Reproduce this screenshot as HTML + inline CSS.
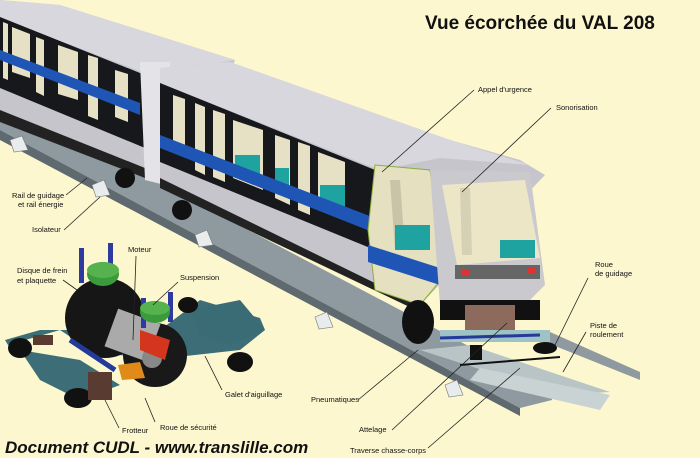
<!DOCTYPE html>
<html><head><meta charset="utf-8"><style>
html,body{margin:0;padding:0;width:700px;height:458px;overflow:hidden;background:#fcf7cf}
svg{display:block}
text{font-family:"Liberation Sans",sans-serif}
.l{font-size:7.5px;fill:#111}
.ln{stroke:#222;stroke-width:0.8;fill:none}
</style></head><body>
<svg width="700" height="458" viewBox="0 0 700 458">
<rect width="700" height="458" fill="#fcf7cf"/>
<!-- rails -->
<polygon points="0,115 0,130 520,408 552,400 552,390 30,115" fill="#8f9aa0"/>
<polygon points="0,130 520,408 520,416 0,140" fill="#5f6a70"/>
<polygon points="420,350 560,395 610,392 470,345" fill="#b8c4c6"/>
<polygon points="470,380 600,410 610,395 480,368" fill="#c9d3d3"/>
<polygon points="540,340 640,380 640,372 550,332" fill="#8f9aa0"/>
<!-- isolators -->
<g fill="#e8ecec" stroke="#777" stroke-width="0.6">
<polygon points="10,140 22,136 28,150 14,152"/>
<polygon points="92,185 104,180 110,195 96,197"/>
<polygon points="195,235 207,230 213,245 199,247"/>
<polygon points="315,317 327,312 333,327 319,329"/>
<polygon points="445,385 457,380 463,395 449,397"/>
</g>
<!-- car 1 -->
<polygon points="0,0 60,5 235,60 230,72 150,80 150,170 0,112" fill="#c6c5cc"/>
<polygon points="0,0 60,5 235,60 150,75 0,18" fill="#d8d7dd"/>
<polygon points="0,17 145,75 145,148 0,88" fill="#17181c"/>
<g fill="#e6e1c4"><polygon points="3,22 8,24 8,80 3,78"/><polygon points="12,27 30,34 30,78 12,72"/><polygon points="36,37 44,40 44,96 36,92"/><polygon points="58,45 78,52 78,100 58,94"/><polygon points="88,55 98,58 98,120 88,116"/><polygon points="115,70 128,74 128,122 115,117"/></g>
<polygon points="0,50 140,103 140,115 0,60" fill="#1f56b5"/>
<polygon points="0,110 145,168 145,178 0,122" fill="#222"/>
<!-- articulation -->
<polygon points="140,62 170,62 165,185 145,180" fill="#e4e4e8"/>
<!-- car 2 -->
<polygon points="160,68 230,62 450,140 520,160 545,175 420,305 160,180" fill="#c6c5cc"/>
<polygon points="160,68 230,62 450,140 530,165 440,158 380,170 160,83" fill="#d8d7dd"/>
<polygon points="160,83 380,172 380,252 160,162" fill="#17181c"/>
<g fill="#e6e1c4"><polygon points="173,95 185,99 185,150 173,145"/><polygon points="195,103 205,107 205,175 195,170"/><polygon points="213,110 225,114 225,182 213,177"/><polygon points="233,120 263,130 263,190 233,178"/><polygon points="275,135 290,140 290,205 275,198"/><polygon points="298,142 310,146 310,215 298,210"/><polygon points="318,152 345,162 345,220 318,210"/></g>
<g fill="#1fa3a0"><rect x="235" y="155" width="25" height="20"/><rect x="275" y="168" width="14" height="25"/><rect x="320" y="185" width="25" height="25"/></g>
<polygon points="160,135 380,220 380,235 160,148" fill="#1f56b5"/>
<polygon points="160,178 420,305 420,312 160,188" fill="#222"/>
<!-- cutaway cab -->
<polygon points="375,165 430,170 445,275 420,305 375,290 368,230" fill="#e4e0c0" stroke="#8bb03a" stroke-width="1"/>
<polygon points="390,180 400,180 405,250 395,250" fill="#c9c4a8"/>
<rect x="395" y="225" width="35" height="25" fill="#1fa3a0"/>
<polygon points="368,245 440,268 440,285 368,262" fill="#1f56b5"/>
<!-- front -->
<polygon points="430,170 530,172 545,285 530,300 440,305" fill="#c9c9ce"/>
<polygon points="442,185 525,180 540,258 457,265" fill="#ece6c7"/>
<polygon points="460,188 470,188 472,255 462,255" fill="#d6d0b5"/>
<rect x="500" y="240" width="35" height="18" fill="#1fa3a0"/>
<rect x="455" y="265" width="85" height="14" fill="#666"/>
<rect x="462" y="269" width="7" height="6" fill="#d33"/><rect x="528" y="268" width="7" height="6" fill="#d33"/>
<!-- front undercarriage -->
<ellipse cx="418" cy="322" rx="16" ry="22" fill="#111"/>
<rect x="440" y="300" width="100" height="20" fill="#111"/>
<rect x="465" y="305" width="50" height="28" fill="#8c6a5c"/>
<rect x="440" y="330" width="110" height="12" fill="#9fc3c4"/>
<line x1="440" y1="338" x2="540" y2="335" stroke="#233a9a" stroke-width="3"/>
<ellipse cx="545" cy="348" rx="12" ry="6" fill="#111"/>
<rect x="470" y="345" width="12" height="15" fill="#111"/>
<line x1="460" y1="365" x2="560" y2="357" stroke="#111" stroke-width="2"/>
<!-- middle wheels -->
<circle cx="125" cy="178" r="10" fill="#111"/><circle cx="182" cy="210" r="10" fill="#111"/>
<!-- bogie -->
<polygon points="8,345 60,330 90,350 150,360 240,350 265,330 260,318 200,300 160,330 90,330 40,330 5,340" fill="#3d6e78"/>
<polygon points="20,350 80,360 120,385 80,400 40,380" fill="#3d6e78"/>
<polygon points="190,310 240,300 265,330 230,345 200,335" fill="#3a6c76"/>
<ellipse cx="20" cy="348" rx="12" ry="10" fill="#111"/>
<ellipse cx="78" cy="398" rx="14" ry="10" fill="#111"/>
<ellipse cx="240" cy="362" rx="13" ry="10" fill="#111"/>
<ellipse cx="188" cy="305" rx="10" ry="8" fill="#111"/>
<circle cx="105" cy="318" r="40" fill="#161616"/>
<circle cx="155" cy="355" r="32" fill="#191919"/>
<rect x="110" y="315" width="45" height="40" fill="#aaa" transform="rotate(20 132 335)"/>
<circle cx="152" cy="358" r="10" fill="#888"/>
<polygon points="118,365 140,362 145,378 122,380" fill="#e08a1a"/>
<polygon points="140,330 170,340 165,360 140,350" fill="#d3361d"/>
<line x1="70" y1="340" x2="115" y2="370" stroke="#233a9a" stroke-width="5"/>
<rect x="88" y="372" width="24" height="28" fill="#5a3b32"/>
<rect x="33" y="335" width="20" height="10" fill="#5a3b32"/>
<g fill="#2d3aa0"><rect x="79" y="248" width="5" height="35"/><rect x="108" y="243" width="5" height="35"/><rect x="141" y="298" width="5" height="30"/><rect x="168" y="292" width="5" height="30"/></g>
<ellipse cx="103" cy="274" rx="16" ry="12" fill="#3b9a3b"/>
<ellipse cx="103" cy="270" rx="16" ry="8" fill="#55b24d"/>
<ellipse cx="155" cy="312" rx="15" ry="11" fill="#3b9a3b"/>
<ellipse cx="155" cy="308" rx="15" ry="7" fill="#55b24d"/>
<!-- leader lines -->
<g class="ln">
<line x1="474" y1="90" x2="382" y2="172"/><line x1="551" y1="108" x2="462" y2="192"/>
<line x1="588" y1="278" x2="555" y2="345"/><line x1="586" y1="332" x2="563" y2="372"/>
<line x1="358" y1="400" x2="418" y2="350"/><line x1="392" y1="430" x2="507" y2="323"/>
<line x1="428" y1="448" x2="520" y2="368"/>
<line x1="136" y1="256" x2="133" y2="340"/><line x1="63" y1="280" x2="77" y2="290"/>
<line x1="178" y1="282" x2="153" y2="305"/><line x1="222" y1="390" x2="205" y2="356"/>
<line x1="119" y1="428" x2="105" y2="400"/><line x1="155" y1="422" x2="145" y2="398"/>
<line x1="66" y1="195" x2="87" y2="178"/><line x1="64" y1="230" x2="100" y2="197"/>
</g>
<!-- labels -->
<text x="425" y="29" font-size="19" font-weight="bold" fill="#111">Vue écorchée du VAL 208</text>
<text class="l" x="478" y="92">Appel d'urgence</text>
<text class="l" x="556" y="110">Sonorisation</text>
<text class="l" x="12" y="198">Rail de guidage</text>
<text class="l" x="18" y="207">et rail énergie</text>
<text class="l" x="32" y="232">Isolateur</text>
<text class="l" x="128" y="252">Moteur</text>
<text class="l" x="17" y="273">Disque de frein</text>
<text class="l" x="17" y="283">et plaquette</text>
<text class="l" x="180" y="280">Suspension</text>
<text class="l" x="225" y="397">Galet d'aiguillage</text>
<text class="l" x="122" y="433">Frotteur</text>
<text class="l" x="160" y="430">Roue de sécurité</text>
<text class="l" x="311" y="402">Pneumatiques</text>
<text class="l" x="359" y="432">Attelage</text>
<text class="l" x="350" y="453">Traverse chasse-corps</text>
<text class="l" x="595" y="267">Roue</text>
<text class="l" x="595" y="276">de guidage</text>
<text class="l" x="590" y="328">Piste de</text>
<text class="l" x="590" y="337">roulement</text>
<text x="5" y="453" font-size="17" font-weight="bold" font-style="italic" fill="#111">Document CUDL - www.translille.com</text>
</svg>
</body></html>
